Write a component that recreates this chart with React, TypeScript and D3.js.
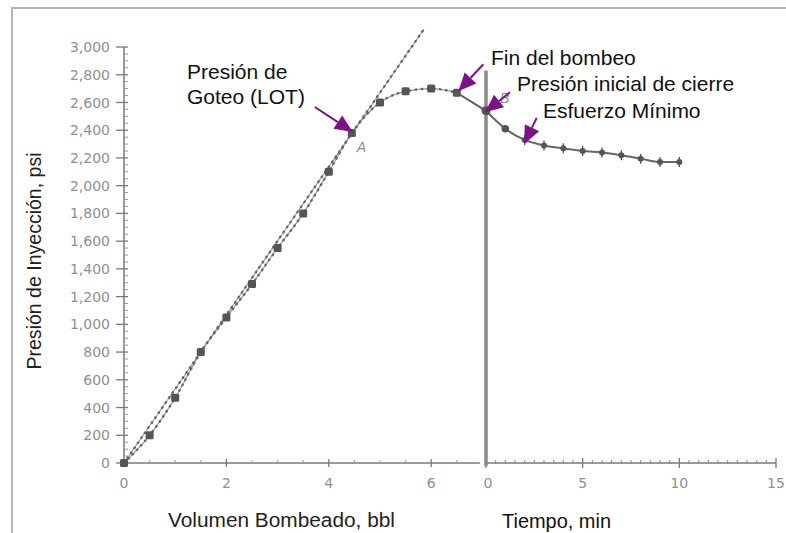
import { useEffect, useRef } from "react";
import * as d3 from "d3";

// Leak-off test: pumping phase (volume) then shut-in phase (time)
const pumpVolume = [0, 0.5, 1, 1.5, 2, 2.5, 3, 3.5, 4, 4.45, 5, 5.5, 6, 6.5];
const pumpPressure = [0, 200, 470, 800, 1050, 1290, 1550, 1800, 2100, 2380, 2600, 2680, 2700, 2670];

const shutInTime = [0, 1, 2, 3, 4, 5, 6, 7, 8, 9, 10];
const shutInPressure = [2540, 2410, 2330, 2290, 2270, 2250, 2240, 2220, 2195, 2170, 2170];

// straight-line trend through the elastic part
const trendVolume = [0, 5.86];
const trendPressure = [0, 3130];

const pressureTicks = [0, 200, 400, 600, 800, 1000, 1200, 1400, 1600, 1800, 2000, 2200, 2400, 2600, 2800, 3000];
const volumeTicks = [0, 2, 4, 6];
const timeTicks = [0, 5, 10, 15];

const WIDTH = 786;
const HEIGHT = 533;
const ARROW = "#7d1186";
const TEXT_FONT = "'Liberation Sans', Arial, sans-serif";
const TICK_FONT = "'DejaVu Sans', sans-serif";

export default function App() {
  const svgRef = useRef<SVGSVGElement>(null);

  useEffect(() => {
    if (!svgRef.current) return;
    const svg = d3.select(svgRef.current);
    svg.selectAll("*").remove();

    const y = d3.scaleLinear().domain([0, 3000]).range([463, 47]);
    const xL = d3.scaleLinear().domain([0, 7]).range([124, 482.4]);
    const xR = d3.scaleLinear().domain([0, 15]).range([486, 776]);

    svg.append("rect").attr("width", WIDTH).attr("height", HEIGHT).attr("fill", "#fff");

    // frame
    svg
      .append("path")
      .attr("d", `M12,${HEIGHT} L12,8 L${WIDTH},8`)
      .attr("fill", "none")
      .attr("stroke", "#b4b4b4")
      .attr("stroke-width", 2);

    const axisColor = "#7a7a7a";

    // Y axis
    svg
      .append("line")
      .attr("x1", xL(0))
      .attr("x2", xL(0))
      .attr("y1", y(0))
      .attr("y2", y(3000))
      .attr("stroke", axisColor)
      .attr("stroke-width", 1.5);

    const minorY = d3.range(0, 3001, 50).filter((v) => v % 200 !== 0);
    svg
      .selectAll(".ytick-minor")
      .data(minorY)
      .join("line")
      .attr("x1", xL(0) - 1)
      .attr("x2", xL(0) + 4)
      .attr("y1", (d) => y(d))
      .attr("y2", (d) => y(d))
      .attr("stroke", "#999")
      .attr("stroke-width", 1);

    svg
      .selectAll(".ytick")
      .data(pressureTicks)
      .join("line")
      .attr("x1", xL(0) - 8)
      .attr("x2", xL(0) + 4)
      .attr("y1", (d) => y(d))
      .attr("y2", (d) => y(d))
      .attr("stroke", axisColor)
      .attr("stroke-width", 1.3);

    svg
      .selectAll(".ylabel")
      .data(pressureTicks)
      .join("text")
      .attr("x", 110)
      .attr("y", (d) => y(d))
      .attr("dy", "0.36em")
      .attr("text-anchor", "end")
      .attr("fill", "#8f8f8f")
      .style("font-family", TICK_FONT)
      .style("font-size", "14px")
      .text((d) => d3.format(",")(d));

    // X axis, pumping (volume)
    svg
      .append("line")
      .attr("x1", xL(0))
      .attr("x2", xL(6.95))
      .attr("y1", y(0))
      .attr("y2", y(0))
      .attr("stroke", axisColor)
      .attr("stroke-width", 1.5);

    const minorVol = d3.range(0.5, 6.9, 0.5).filter((v) => v % 2 !== 0);
    svg
      .selectAll(".xl-minor")
      .data(minorVol)
      .join("line")
      .attr("x1", (d) => xL(d))
      .attr("x2", (d) => xL(d))
      .attr("y1", y(0) - 3)
      .attr("y2", y(0) + 1)
      .attr("stroke", "#999");

    svg
      .selectAll(".xl-major")
      .data(volumeTicks)
      .join("line")
      .attr("x1", (d) => xL(d))
      .attr("x2", (d) => xL(d))
      .attr("y1", y(0) - 4)
      .attr("y2", y(0) + 4)
      .attr("stroke", axisColor)
      .attr("stroke-width", 1.3);

    svg
      .selectAll(".xl-label")
      .data(volumeTicks)
      .join("text")
      .attr("x", (d) => xL(d))
      .attr("y", 488)
      .attr("text-anchor", "middle")
      .attr("fill", "#8f8f8f")
      .style("font-family", TICK_FONT)
      .style("font-size", "14px")
      .text((d) => d);

    // X axis, shut-in (time)
    svg
      .append("line")
      .attr("x1", xR(0))
      .attr("x2", xR(15))
      .attr("y1", y(0))
      .attr("y2", y(0))
      .attr("stroke", axisColor)
      .attr("stroke-width", 1.5);

    const minorTime = d3.range(0.5, 15, 0.5).filter((v) => v % 5 !== 0);
    svg
      .selectAll(".xr-minor")
      .data(minorTime)
      .join("line")
      .attr("x1", (d) => xR(d))
      .attr("x2", (d) => xR(d))
      .attr("y1", y(0) - 3)
      .attr("y2", y(0) + 1)
      .attr("stroke", "#888");

    svg
      .selectAll(".xr-major")
      .data(timeTicks)
      .join("line")
      .attr("x1", (d) => xR(d))
      .attr("x2", (d) => xR(d))
      .attr("y1", y(0) - 5)
      .attr("y2", y(0) + 5)
      .attr("stroke", axisColor)
      .attr("stroke-width", 1.3);

    svg
      .selectAll(".xr-label")
      .data(timeTicks)
      .join("text")
      .attr("x", (d) => xR(d) + (d === 0 ? 2 : 0))
      .attr("y", 488)
      .attr("text-anchor", "middle")
      .attr("fill", "#8f8f8f")
      .style("font-family", TICK_FONT)
      .style("font-size", "14px")
      .text((d) => d);

    // shut-in separator
    svg
      .append("line")
      .attr("x1", xR(0))
      .attr("x2", xR(0))
      .attr("y1", y(2830))
      .attr("y2", y(0) + 3)
      .attr("stroke", "#8a8a8a")
      .attr("stroke-width", 3.5);

    // Axis titles
    svg
      .append("text")
      .attr("transform", `translate(41,${261}) rotate(-90)`)
      .attr("text-anchor", "middle")
      .attr("fill", "#222")
      .attr("textLength", 217)
      .attr("lengthAdjust", "spacingAndGlyphs")
      .style("font-family", TEXT_FONT)
      .style("font-size", "19.5px")
      .text("Presión de Inyección, psi");

    svg
      .append("text")
      .attr("x", 168)
      .attr("y", 527)
      .attr("fill", "#222")
      .attr("textLength", 227)
      .attr("lengthAdjust", "spacingAndGlyphs")
      .style("font-family", TEXT_FONT)
      .style("font-size", "19.5px")
      .text("Volumen Bombeado, bbl");

    svg
      .append("text")
      .attr("x", 502)
      .attr("y", 528)
      .attr("fill", "#111")
      .attr("textLength", 109)
      .attr("lengthAdjust", "spacingAndGlyphs")
      .style("font-family", TEXT_FONT)
      .style("font-size", "19.5px")
      .text("Tiempo, min");

    // Beaded line helper
    const beaded = (d: string) => {
      svg
        .append("path")
        .attr("d", d)
        .attr("fill", "none")
        .attr("stroke", "#9a9a9a")
        .attr("stroke-width", 1.2);
      svg
        .append("path")
        .attr("d", d)
        .attr("fill", "none")
        .attr("stroke", "#666")
        .attr("stroke-width", 2.4)
        .attr("stroke-linecap", "round")
        .attr("stroke-dasharray", "0.6 5.5");
    };

    const pumpPts: [number, number][] = pumpVolume.map((v, i) => [xL(v), y(pumpPressure[i])]);
    const trendPts: [number, number][] = trendVolume.map((v, i) => [xL(v), y(trendPressure[i])]);
    const shutPts: [number, number][] = shutInTime.map((t, i) => [xR(t), y(shutInPressure[i])]);

    const lineGen = d3.line();
    const curve = d3.line().curve(d3.curveMonotoneX);

    beaded(lineGen(trendPts)!);
    beaded(curve(pumpPts)!);

    // bridge from last pumping point to shut-in start
    svg
      .append("path")
      .attr("d", lineGen([pumpPts[pumpPts.length - 1], shutPts[0]])!)
      .attr("fill", "none")
      .attr("stroke", "#5e5e5e")
      .attr("stroke-width", 2);

    svg
      .append("path")
      .attr("d", curve(shutPts)!)
      .attr("fill", "none")
      .attr("stroke", "#666")
      .attr("stroke-width", 2);

    // Pumping markers (squares)
    svg
      .selectAll(".pump-pt")
      .data(pumpPts)
      .join("rect")
      .attr("x", (d) => d[0] - 4)
      .attr("y", (d) => d[1] - 4)
      .attr("width", 8)
      .attr("height", 8)
      .attr("rx", 1.5)
      .attr("fill", "#555");

    // Shut-in markers
    svg
      .selectAll(".shut-tick")
      .data(shutPts.slice(2))
      .join("line")
      .attr("x1", (d) => d[0])
      .attr("x2", (d) => d[0])
      .attr("y1", (d) => d[1] - 5)
      .attr("y2", (d) => d[1] + 5)
      .attr("stroke", "#555")
      .attr("stroke-width", 1.3);

    svg
      .selectAll(".shut-pt")
      .data(shutPts)
      .join("circle")
      .attr("cx", (d) => d[0])
      .attr("cy", (d) => d[1])
      .attr("r", (_, i) => (i === 0 ? 4.5 : i === 1 ? 3.8 : 3))
      .attr("fill", "#555");

    // point labels A / B
    svg
      .append("text")
      .attr("x", pumpPts[9][0] + 5)
      .attr("y", pumpPts[9][1] + 19)
      .attr("fill", "#8c8c8c")
      .style("font-family", TEXT_FONT)
      .style("font-size", "14px")
      .style("font-style", "italic")
      .text("A");

    svg
      .append("text")
      .attr("x", shutPts[0][0] + 14)
      .attr("y", shutPts[0][1] - 8)
      .attr("fill", "#8c8c8c")
      .style("font-family", TEXT_FONT)
      .style("font-size", "14px")
      .style("font-style", "italic")
      .text("B");

    // Annotations
    const arrow = (tip: [number, number], dx: number, dy: number) => {
      const [x2, y2] = tip;
      const x1 = x2 + dx;
      const y1 = y2 + dy;
      const len = Math.hypot(dx, dy);
      const ux = -dx / len;
      const uy = -dy / len;
      const L = 18;
      const W = 8;
      const bx = x2 - ux * L;
      const by = y2 - uy * L;
      svg
        .append("line")
        .attr("x1", x1)
        .attr("y1", y1)
        .attr("x2", bx)
        .attr("y2", by)
        .attr("stroke", ARROW)
        .attr("stroke-width", 2);
      svg
        .append("polygon")
        .attr(
          "points",
          [
            [x2, y2],
            [bx - uy * W, by + ux * W],
            [bx + uy * W, by - ux * W],
          ]
            .map((p) => p.join(","))
            .join(" ")
        )
        .attr("fill", ARROW);
    };

    arrow([pumpPts[9][0] + 1, pumpPts[9][1] - 1], -38, -25);
    arrow([pumpPts[13][0] + 1.5, pumpPts[13][1] - 1.5], 25, -27);
    arrow([shutPts[0][0] - 1, shutPts[0][1] + 1.5], 25, -20);
    arrow([shutPts[2][0] - 0.5, shutPts[2][1] + 4], 12.5, -26);

    const notes: [string, number, number][] = [
      ["Presión de", 187, 79],
      ["Goteo (LOT)", 187, 104],
      ["Fin del bombeo", 491, 65],
      ["Presión inicial de cierre", 517, 91],
      ["Esfuerzo Mínimo", 543, 118],
    ];
    svg
      .selectAll(".note")
      .data(notes)
      .join("text")
      .attr("x", (d) => d[1])
      .attr("y", (d) => d[2])
      .attr("fill", "#111")
      .style("font-family", TEXT_FONT)
      .style("font-size", "21px")
      .text((d) => d[0]);
  }, []);

  return (
    <svg
      ref={svgRef}
      width={WIDTH}
      height={HEIGHT}
      style={{ position: "absolute", left: 0, top: 0, display: "block" }}
    />
  );
}
